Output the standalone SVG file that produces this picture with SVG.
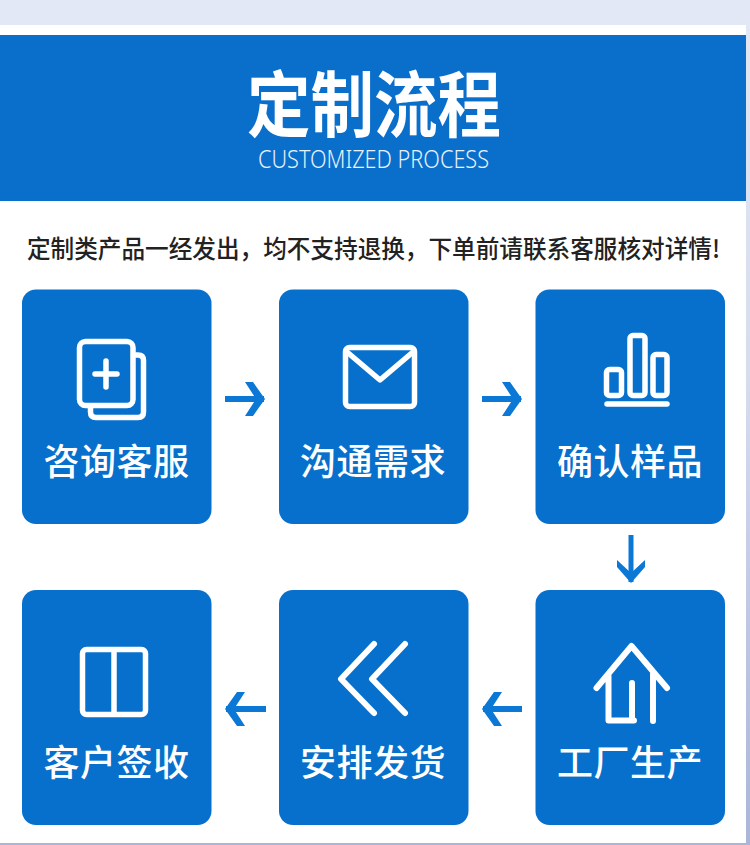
<svg xmlns="http://www.w3.org/2000/svg" width="750" height="845" viewBox="0 0 750 845">
<style>
.card{fill:#0670cc}
.lbl{font-family:"Noto Sans CJK SC","Noto Sans",sans-serif;font-size:36px;font-weight:500;fill:#fff;text-anchor:middle;letter-spacing:.5px}
.ic{fill:none;stroke:#fff;stroke-width:5.500;stroke-linecap:round;stroke-linejoin:round}
.arr{stroke:#0c78d6;stroke-width:6;fill:none}
</style>
<defs>
<linearGradient id="edge" x1="0" y1="0" x2="0" y2="1"><stop offset="0" stop-color="#e2e8f5"/><stop offset="0.45" stop-color="#d5dcee"/><stop offset="1" stop-color="#a9b6d8"/></linearGradient>
<marker id="head" markerUnits="userSpaceOnUse" markerWidth="22" markerHeight="34" viewBox="0 0 22 34" refX="20" refY="17" orient="auto"><path d="M1 0H9L21 17L9 34H1L12 17Z" fill="#0c78d6"/></marker>
<marker id="headS" markerUnits="userSpaceOnUse" markerWidth="24" markerHeight="28" viewBox="0 0 24 28" refX="22" refY="14" orient="auto"><path d="M0 0L7 0L23 14L7 28L0 28L13 14Z" fill="#0c78d6"/></marker>
</defs>
<rect width="750" height="845" fill="url(#edge)"/>
<rect width="750" height="25" fill="#e2e8f5"/>
<rect y="25" width="746" height="818" fill="#fff"/>
<rect y="843" width="750" height="2" fill="#a9b6d8"/>
<g id="header">
<rect y="35" width="746" height="166" fill="#0a6ecb"/>
<text x="374" y="131" font-family="'Noto Sans CJK SC',sans-serif" font-size="72" font-weight="700" fill="#fff" text-anchor="middle" textLength="254" lengthAdjust="spacingAndGlyphs">定制流程</text>
<text x="373.500" y="168" font-family="'Noto Sans',sans-serif" font-size="25" font-weight="300" fill="#e6f2fb" text-anchor="middle" textLength="231" lengthAdjust="spacingAndGlyphs">CUSTOMIZED PROCESS</text>
</g>
<text id="notice" x="27" y="258" font-family="'Noto Sans CJK SC',sans-serif" font-size="24.500" font-weight="500" fill="#222" textLength="693" lengthAdjust="spacingAndGlyphs">定制类产品一经发出，均不支持退换，下单前请联系客服核对详情!</text>
<g id="connectors">
<line class="arr" x1="225" y1="399" x2="264" y2="399" marker-end="url(#head)"/>
<line class="arr" x1="482" y1="399" x2="521" y2="399" marker-end="url(#head)"/>
<line class="arr" x1="631" y1="535" x2="631" y2="582" marker-end="url(#headS)" style="stroke-width:5"/>
<line class="arr" x1="266" y1="709" x2="226" y2="709" marker-end="url(#head)"/>
<line class="arr" x1="522" y1="709" x2="483" y2="709" marker-end="url(#head)"/>
</g>
<g id="node-1">
<rect class="card" x="22" y="289.500" width="189.500" height="234.500" rx="14"/>
<rect class="ic" x="79.500" y="341.500" width="53.500" height="64" rx="6"/>
<path class="ic" d="M136 355H138Q143.500 355 143.500 360.500V412Q143.500 417.500 138 417.500H96Q90.500 417.500 90.500 412V408"/>
<path class="ic" d="M95 374H117M106 361V387"/>
<text class="lbl" x="116.500" y="475">咨询客服</text>
</g>
<g id="node-2">
<rect class="card" x="279" y="289.500" width="189.500" height="234.500" rx="14"/>
<rect class="ic" x="345.500" y="347.500" width="69" height="59" rx="4"/>
<path class="ic" d="M347 352L380 380L413 352"/>
<text class="lbl" x="373" y="475">沟通需求</text>
</g>
<g id="node-3">
<rect class="card" x="535.500" y="289.500" width="189.500" height="234.500" rx="14"/>
<rect class="ic" x="606.500" y="369.500" width="15" height="26" rx="3"/>
<rect class="ic" x="630" y="335.500" width="15" height="60" rx="3"/>
<rect class="ic" x="653" y="354.500" width="14" height="41" rx="3"/>
<path class="ic" d="M607 404H667"/>
<text class="lbl" x="630" y="475">确认样品</text>
</g>
<g id="node-6">
<rect class="card" x="22" y="590" width="189.500" height="235" rx="14"/>
<rect class="ic" x="82.500" y="649.500" width="63" height="65" rx="4"/>
<path class="ic" d="M114 650V714"/>
<text class="lbl" x="116.500" y="776">客户签收</text>
</g>
<g id="node-5">
<rect class="card" x="279" y="590" width="189.500" height="235" rx="14"/>
<path class="ic" d="M374 644L341 679L374 713M405 644L372 679L405 713" style="stroke-width:6"/>
<text class="lbl" x="373" y="776">安排发货</text>
</g>
<g id="node-4">
<rect class="card" x="535.500" y="590" width="189.500" height="235" rx="14"/>
<path class="ic" d="M596.500 688L631.500 646L667 688M608.500 676V720.500H634M632 683V719M653 674V721" style="stroke-width:6"/>
<text class="lbl" x="630" y="776">工厂生产</text>
</g>
</svg>
